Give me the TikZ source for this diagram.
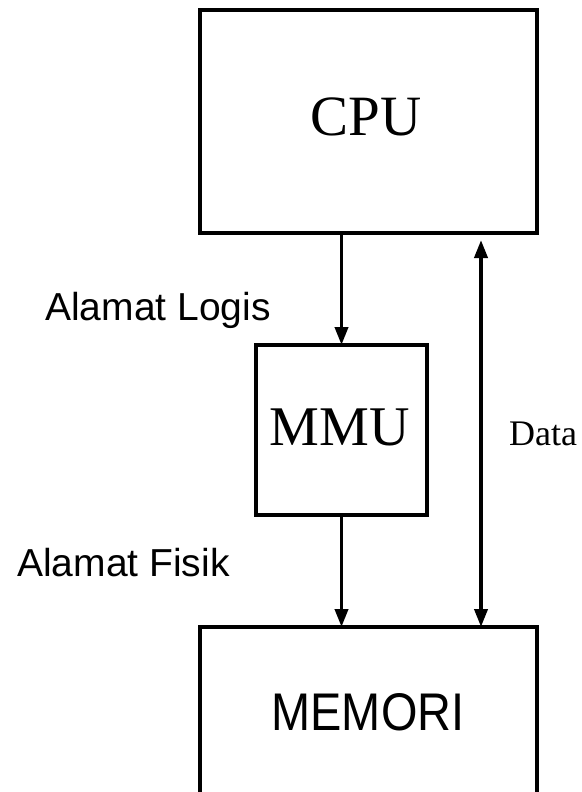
\documentclass[tikz,border=0pt]{standalone}
\usepackage{fontspec}
\setmainfont{Liberation Serif}
\newfontfamily\arialf{Liberation Sans}
\usetikzlibrary{arrows.meta}
\begin{document}
\begin{tikzpicture}[x=1pt,y=-1pt,
  boxnode/.style={draw=black,line width=3.6pt,inner sep=0pt,outer sep=0pt},
  conn/.style={line width=3.8pt},
  tip/.style={-{Triangle[length=18pt,width=13pt]}},
  serifbig/.style={font=\fontsize{57}{60}\selectfont,inner sep=0pt,anchor=base},
  sanslbl/.style={font=\arialf\fontsize{39}{42}\selectfont,inner sep=0pt,anchor=base west}]
\useasboundingbox (0,0) rectangle (581,792);
\fill[white] (0,0) rectangle (581,792);
% boxes
\node[boxnode,minimum width=337pt,minimum height=223pt] (cpu) at (368.5,121.5) {};
\node[boxnode,minimum width=171pt,minimum height=170pt] (mmu) at (341.5,430) {};
\node[boxnode,minimum width=337pt,minimum height=170pt] (mem) at (368.5,712) {};
% texts
\node[serifbig] (cputxt) at (366,135) {CPU};
\node[serifbig,font=\fontsize{56}{60}\selectfont] (mmutxt) at (340,445) {MMU};
\node[inner sep=0pt,anchor=base,font=\arialf\fontsize{53}{56}\selectfont] (memtxt) at (368,730) {\scalebox{0.885}[1]{MEMORI}};
\node[inner sep=0pt,anchor=base west,font=\fontsize{36}{40}\selectfont] (datatxt) at (509,445) {Data};
\node[sanslbl] (logis) at (45,320) {Alamat Logis};
\node[sanslbl] (fisik) at (17,576) {Alamat Fisik};
% connectors
\coordinate (dx) at (481,0);
\draw[conn,tip] (cpu.south -| mmu.north) -- (mmu.north);
\draw[conn,tip] (mmu.south) -- (mmu.south |- mem.north);
\draw[conn,{Triangle[length=18pt,width=13pt]}-{Triangle[length=18pt,width=13pt]},shorten <=7pt] (cpu.south -| dx) -- (mem.north -| dx);
\end{tikzpicture}
\end{document}
